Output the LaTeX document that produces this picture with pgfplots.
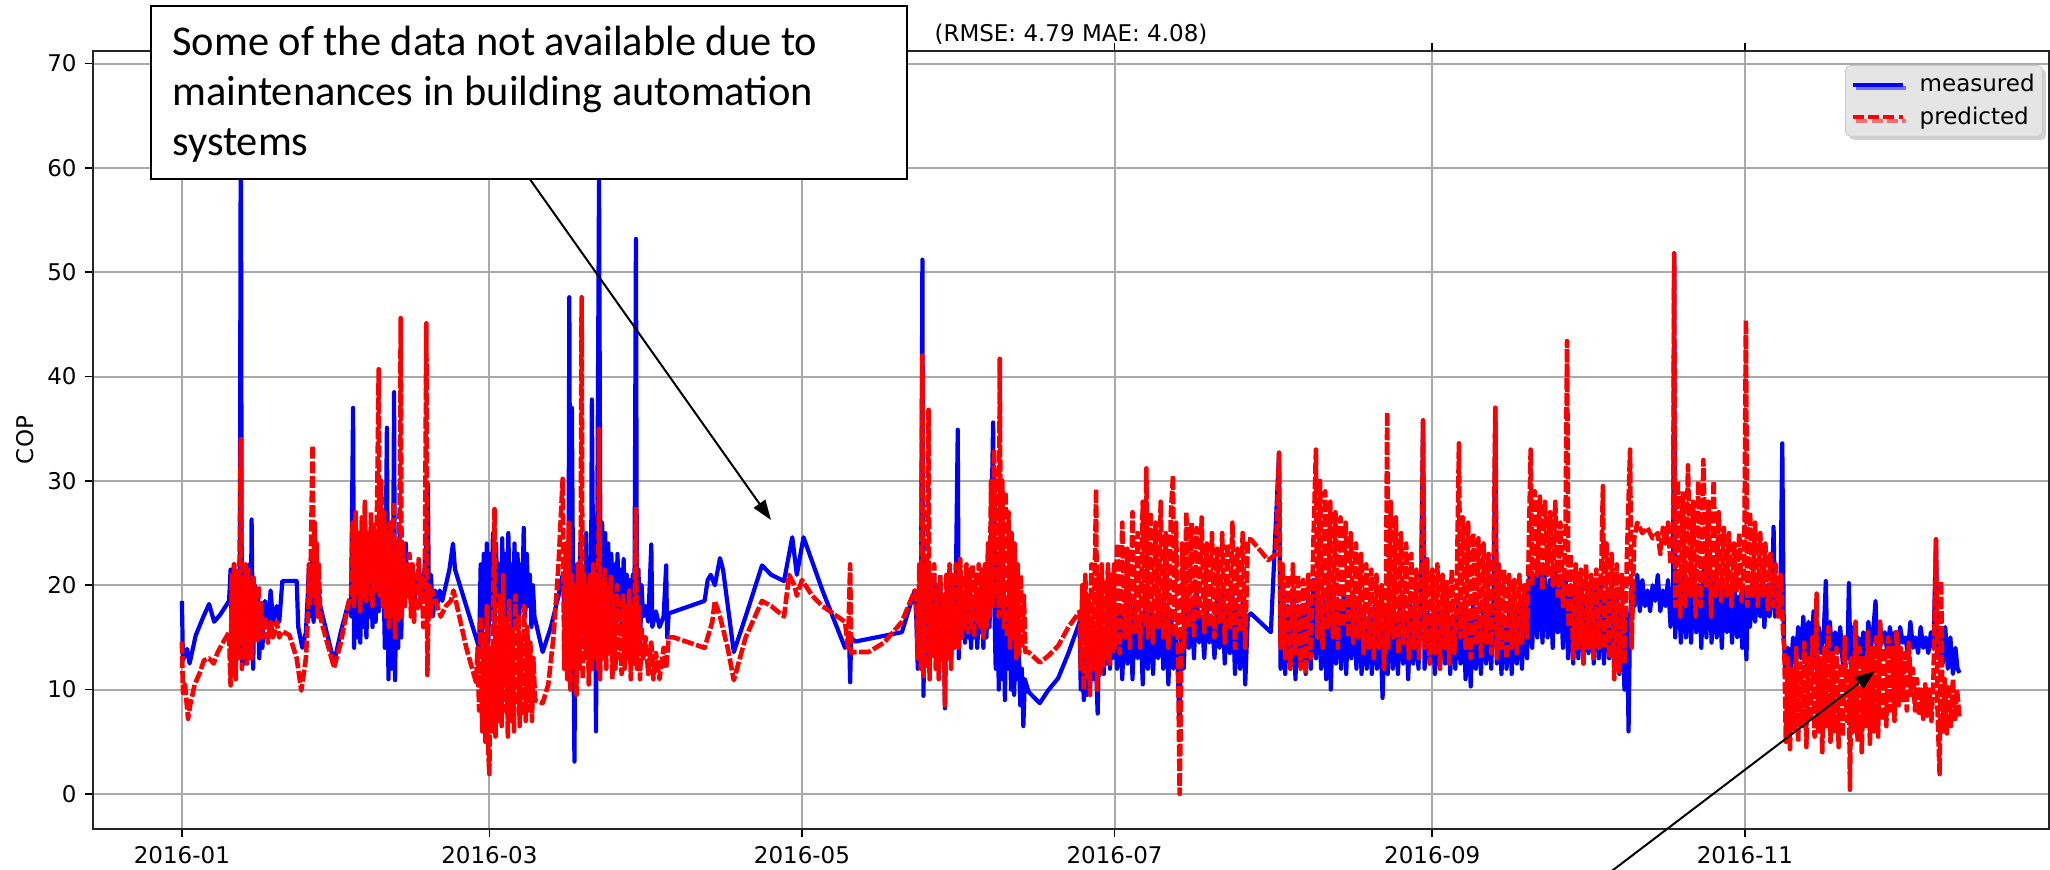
\documentclass[border=0pt]{standalone}
\usepackage{fontspec}
\setmainfont{DejaVu Sans}
\newfontfamily\calibri{Carlito}
\usepackage{pgfplots}
\usepackage{pgfplotstable}
\pgfplotsset{compat=1.18}
\usetikzlibrary{arrows.meta,shadows}
\definecolor{gridgray}{RGB}{170,170,170}
\definecolor{leggray}{RGB}{229,229,229}
\definecolor{legdraw}{RGB}{200,200,200}
\newcommand\tickfont{\fontsize{11.5bp}{13.8bp}\selectfont}

\pgfplotstableread[row sep=\\]{
x y\\
0 18.5\\ 0.2 12.8\\ 1.0 13.9\\ 1.5 12.5\\ 2.7 15.2\\ 4.2 17\\ 5.3 18.2\\ 6.3 16.5\\ 7.5 17.2\\ 9.2 18.5\\
9.5 21.5\\ 9.8 13\\ 10.1 22\\ 10.4 12.5\\ 10.7 20\\ 11.0 14\\ 11.3 21\\ 11.5 67.8\\ 11.7 12\\ 12.0 20\\ 12.3 12.5\\ 12.6 19\\ 12.9 14\\ 13.2 22\\ 13.4 13\\ 13.6 26.3\\ 13.9 12\\ 14.2 20\\ 14.5 15\\ 14.8 19.5\\ 15.1 13\\ 15.4 18\\ 15.7 14\\
16.2 18.5\\ 16.8 16\\ 17.3 19.5\\ 17.8 16.5\\ 18.5 18\\ 19.0 16.5\\ 19.6 20.4\\ 22.4 20.4\\ 22.7 16\\ 23.5 14\\ 24.2 15.5\\ 24.6 19.5\\
24.8 22\\ 25.0 17\\ 25.3 21\\ 25.5 23\\ 25.7 16.5\\ 26.0 21\\ 26.3 17.5\\ 26.6 20\\ 27.0 18\\ 29.7 12.6\\ 31.0 15.5\\ 32.6 18.5\\
33.0 17\\ 33.4 37\\ 33.6 14\\ 33.9 20\\ 34.2 15\\ 34.5 21\\ 34.8 14.5\\ 35.1 20\\ 35.4 16\\ 35.7 21.5\\ 36.0 15\\ 36.3 20\\ 36.6 17\\ 36.9 21\\ 37.2 16\\ 37.5 22\\ 37.8 16.5\\ 38.1 21\\ 38.4 17.5\\ 38.7 24\\ 39.0 18\\ 39.3 22\\ 39.6 14\\ 40.0 35.1\\ 40.3 11\\ 40.6 19\\ 40.9 12\\ 41.2 20\\ 41.4 38.5\\ 41.6 10.9\\ 41.9 22\\ 42.2 14\\ 42.5 25\\ 42.8 15\\ 43.1 23\\ 43.4 18\\ 43.7 24\\ 44.0 19\\
44.3 21\\ 44.6 19\\ 45.0 20.5\\ 45.4 18.5\\ 45.8 20.5\\ 46.2 19.5\\ 46.6 21\\ 47.0 19\\ 47.4 22\\ 47.7 24\\ 48.0 29.7\\ 48.2 18\\ 48.6 21\\ 49.0 17\\ 49.4 19.5\\ 49.8 18\\ 50.3 19.5\\ 50.8 18.5\\ 51.5 20\\ 52.2 21.5\\ 52.9 24\\ 53.3 21.5\\ 58.0 14\\
58.3 22\\ 58.6 15\\ 58.9 23\\ 59.2 16\\ 59.5 24\\ 59.8 14.5\\ 60.1 23\\ 60.4 17\\ 60.7 25\\ 61.0 16\\ 61.3 24\\ 61.6 18\\ 61.9 22\\ 62.2 15\\ 62.5 24.5\\ 62.8 17\\ 63.1 23\\ 63.4 16\\ 63.7 25\\ 64.0 18\\ 64.3 22\\ 64.6 15.5\\ 64.9 24\\ 65.2 17\\ 65.5 23\\ 65.8 16\\ 66.1 22\\ 66.4 18\\ 66.7 25.5\\ 67.0 17\\ 67.3 23\\ 67.6 18\\ 67.9 21\\ 68.2 16\\ 68.5 20\\ 68.8 17\\
70.4 13.6\\ 72.0 16\\ 73.5 19\\ 74.3 21\\
74.5 20\\ 74.8 15\\ 75.1 24\\ 75.4 12\\ 75.6 47.6\\ 75.8 16\\ 76.1 37\\ 76.4 14\\ 76.6 3.1\\ 76.8 18\\ 77.1 22\\ 77.4 13\\ 77.7 24\\ 78.0 16\\ 78.3 21\\ 78.6 14\\ 78.9 25\\ 79.2 17\\ 79.5 22\\ 79.8 15\\ 80.0 37.8\\ 80.3 18\\ 80.6 22\\ 80.8 6\\ 81.0 20\\ 81.4 59\\ 81.7 17\\ 82.0 26\\ 82.3 18\\ 82.6 25\\ 82.9 17\\ 83.2 24\\ 83.5 16\\ 83.8 23\\ 84.1 17.5\\ 84.4 22\\ 84.7 16\\ 85.0 23\\ 85.3 18\\ 85.6 21.5\\ 85.9 16\\ 86.2 22.5\\ 86.5 17\\ 86.8 21\\ 87.1 16.5\\ 87.4 20.5\\ 87.7 15\\ 88.0 21\\ 88.3 17\\ 88.6 53.2\\ 88.8 15\\ 89.1 21.5\\ 89.4 14\\ 89.7 20\\ 90.0 17\\
90.5 18\\ 91.0 16.5\\ 91.6 23.9\\ 91.8 16\\ 92.5 17.5\\ 93.2 16\\ 94.0 17\\ 94.5 21.9\\ 94.7 15\\ 95.0 17.3\\
102 18.5\\ 102.6 20.5\\ 103.2 21\\ 104 20\\ 105 22.6\\ 105.6 21.5\\ 107.7 13.6\\ 110 17\\ 113.2 21.9\\ 115 21\\ 117.5 20.4\\ 119.1 24.6\\ 120 21\\ 121.3 24.6\\ 125 19.5\\ 129.4 14\\ 130.2 15\\ 130.4 10.7\\ 130.6 15\\ 131.4 14.6\\ 140.5 15.5\\ 143 19.5\\
143.3 17\\ 143.6 12\\ 143.9 20\\ 144.2 14\\ 144.5 51.2\\ 144.7 9.4\\ 145.0 18\\ 145.3 13\\ 145.6 20\\ 145.9 12\\ 146.2 19\\ 146.5 14\\ 146.8 21\\ 147.1 13\\ 147.4 18.5\\ 147.7 12.5\\ 148.0 20\\ 148.3 13.5\\ 148.6 18\\ 148.9 8.2\\ 149.2 19\\ 149.5 14\\ 149.8 20\\ 150.1 13\\ 150.4 18.5\\ 150.7 14.5\\ 151.0 19\\ 151.4 34.9\\ 151.6 13\\ 151.9 17.5\\ 152.2 15\\ 152.5 19\\ 152.8 14.5\\ 153.1 17\\ 153.4 15\\ 153.7 18\\ 154.0 14\\ 154.3 17.5\\ 154.6 15\\ 154.9 18.5\\ 155.2 14\\ 155.5 17\\ 155.8 15.5\\ 156.1 18\\ 156.4 14\\ 156.7 19\\ 157.0 15\\ 157.3 20\\ 157.6 16\\ 157.9 24\\ 158.3 35.6\\ 158.5 19\\ 158.8 12\\ 159.1 22\\ 159.4 10\\ 159.7 21\\ 160.0 11\\ 160.3 20\\ 160.6 9\\ 160.9 18\\ 161.2 12\\ 161.5 17\\ 161.8 10\\ 162.1 16\\ 162.4 9.5\\ 162.7 15\\ 163.0 11\\ 163.3 14\\ 163.6 8.5\\ 163.9 12\\ 164.2 6.5\\ 164.5 11\\
165.2 9.8\\ 167.4 8.7\\ 169 9.9\\ 171 11.1\\ 173 13.5\\ 175.2 16.5\\
175.4 10\\ 175.7 13\\ 176.0 9\\ 176.3 14\\ 176.6 9.5\\ 176.9 13.5\\ 177.2 10\\ 177.5 14.5\\ 177.8 11\\ 178.1 15\\ 178.4 12\\ 178.7 7.7\\ 179.0 15\\ 179.3 12\\ 179.6 16\\ 179.9 11.5\\ 180.2 15.5\\ 180.5 12.5\\ 180.8 17\\ 181.1 12\\ 181.4 15\\ 181.7 13\\
182.0 17\\ 182.5 12\\ 183.0 18\\ 183.5 11\\ 184.0 17.5\\ 184.5 12.5\\ 185.0 19\\ 185.5 11\\ 186.0 18\\ 186.5 13\\ 187.0 17\\ 187.5 10.5\\ 188.0 19.5\\ 188.5 12\\ 189.0 18\\ 189.5 11.5\\ 190.0 17\\ 190.5 13\\ 191.0 19\\ 191.5 12\\ 192.0 18\\ 192.5 10.5\\ 193.0 17.5\\ 193.5 12\\ 194.0 16\\ 194.7 6.7\\ 195.0 15\\ 195.5 12\\ 196.0 19.5\\ 196.5 14\\ 197.0 18.5\\ 197.5 13\\ 198.0 20\\ 198.5 14.5\\ 199.0 17\\ 199.5 13\\ 200.0 18\\ 200.5 14.5\\ 201.0 17\\ 201.5 13\\ 202.0 18.5\\ 202.5 14\\ 203.0 19\\ 203.5 12.5\\ 204.0 18\\ 204.5 13.5\\ 205.0 19\\ 205.5 11.5\\ 206.0 17.5\\ 206.5 12\\ 207.0 18.5\\ 207.5 10.5\\ 208.0 17\\ 208.6 17.3\\
212.5 15.5\\ 214.1 32.7\\
214.4 12\\ 214.8 19\\ 215.3 11.5\\ 215.8 18\\ 216.3 12\\ 216.8 19.5\\ 217.3 11\\ 217.8 18\\ 218.3 12.5\\ 218.8 17.5\\ 219.3 11.5\\ 219.8 19\\ 220.3 12\\ 220.8 20.5\\ 221.3 13\\ 221.8 19\\ 222.3 12\\ 222.8 18.5\\ 223.3 11\\ 223.8 20\\ 224.2 10\\ 224.7 19\\ 225.2 12.5\\ 225.7 18\\ 226.2 12\\ 226.7 19.5\\ 227.2 11.5\\ 227.7 18\\ 228.2 13\\ 228.7 19\\ 229.2 12\\ 229.7 18.5\\ 230.2 11.5\\ 230.7 17.5\\ 231.2 12\\ 231.7 17\\ 232.2 11.5\\ 232.7 18\\
233.2 12\\ 233.7 18\\ 234.3 9.2\\ 234.8 17.5\\ 235.3 11.5\\ 235.8 18\\ 236.3 12\\ 236.8 17\\ 237.3 11.5\\ 237.8 18.5\\ 238.3 12.5\\ 238.8 17\\ 239.3 11\\ 239.8 18\\ 240.3 12.5\\ 240.8 17.5\\ 241.3 12\\ 241.8 19\\ 242.2 35.8\\ 242.5 12\\ 243.0 18\\ 243.5 12.5\\ 244.0 17\\ 244.5 11.5\\ 245.0 18\\ 245.5 12\\ 246.0 17.5\\ 246.5 12.5\\ 247.0 18\\ 247.5 11.5\\ 248.0 17\\ 248.5 12\\ 249.0 19\\ 249.5 12.5\\ 250.0 18\\ 250.5 11\\ 251.0 17.5\\ 251.5 10.3\\ 252.0 18\\ 252.5 12\\ 253.0 17\\ 253.5 11.5\\ 254.0 18.5\\ 254.5 12.5\\ 255.0 17.5\\ 255.5 12\\ 256.0 19\\ 256.3 37\\ 256.6 12.5\\ 257.0 18\\ 257.5 11.5\\ 258.0 17\\ 258.5 12\\ 259.0 18\\ 259.5 11.5\\ 260.0 17.5\\ 260.5 12.5\\ 261.0 18\\ 261.5 12\\ 262.0 19\\ 262.5 13\\ 263.0 21.5\\ 263.5 14\\ 264.0 21\\ 264.5 15\\ 265.0 22\\ 265.5 14.5\\ 266.0 21\\ 266.5 15\\ 267.0 20.5\\ 267.5 14\\ 268.0 21.5\\ 268.5 15.5\\ 269.0 20\\ 269.5 14\\ 270.0 21\\ 270.5 13\\ 271.0 20\\ 271.5 12.5\\ 272.0 19\\ 272.5 13\\ 273.0 20.5\\ 273.5 12.5\\ 274.0 19\\ 274.5 13.5\\ 275.0 20\\ 275.5 12.5\\ 276.0 19.5\\ 276.5 13\\ 277.0 20\\ 277.5 12.5\\ 278.0 19\\ 278.5 13\\ 279.0 20.5\\ 279.5 12.5\\ 280.0 19\\ 280.5 11.5\\ 281.0 18\\ 281.5 10\\ 282.0 17\\ 282.3 6\\ 282.6 17\\ 283.0 20\\ 283.5 18\\ 284.0 21\\ 284.5 17.5\\ 285.0 20.5\\ 285.5 18\\ 286.0 19.5\\ 286.5 17.5\\ 287.0 20\\ 287.5 18.5\\ 288.0 21\\ 288.5 17.5\\ 289.0 19.5\\ 289.5 18\\ 290.0 20.5\\ 290.5 16\\ 291.0 20\\ 291.2 51.8\\ 291.4 15\\ 292.0 20.5\\ 292.5 14.5\\ 293.0 21.5\\ 293.5 15\\ 294.0 20\\ 294.5 14.5\\ 295.0 21\\ 295.5 15.5\\ 296.0 20\\
296.5 14\\ 297.0 22\\ 297.5 15\\ 298.0 23\\ 298.5 14.5\\ 299.0 21\\ 299.5 15\\ 300.0 20\\ 300.5 14\\ 301.0 20.5\\ 301.5 15.5\\ 302.0 19.5\\ 302.5 14.5\\ 303.0 20\\ 303.5 15\\ 304.0 19\\ 304.5 14\\ 305.0 19.5\\ 305.3 12.9\\ 305.6 19\\ 306.0 16\\ 306.5 20.5\\ 307.0 16.5\\ 307.5 20\\ 308.0 17\\ 308.5 21\\ 308.8 16\\ 309.3 20\\ 309.8 17\\ 310.3 19\\ 310.6 25.6\\ 310.9 17\\ 311.4 20\\ 311.9 17.5\\ 312.3 33.6\\ 312.6 15\\
312.9 12\\ 313.4 14\\ 313.9 11.5\\ 314.4 15\\ 314.9 12.5\\ 315.4 16\\ 315.9 13\\ 316.4 17\\ 316.9 12.5\\ 317.4 16.5\\ 317.9 13\\ 318.4 17.5\\ 318.9 12\\ 319.4 16\\ 319.9 13.5\\ 320.4 15.5\\ 320.8 20.4\\ 321.1 13\\ 321.6 16.5\\ 322.1 12.5\\ 322.6 15.5\\ 323.1 13.5\\ 323.6 16\\ 324.1 12.5\\ 324.6 15\\ 325.0 13\\ 325.3 20.2\\ 325.6 12.5\\ 326.1 16\\ 326.6 13\\ 327.1 15\\ 327.6 12.5\\ 328.1 15.5\\ 328.6 13\\ 329.1 16.5\\ 329.6 14\\ 330.1 16\\ 330.5 18.5\\ 330.8 14\\ 331.3 16.5\\ 331.8 14.5\\ 332.3 15.5\\ 332.8 13.5\\ 333.3 16\\ 333.8 14\\ 334.3 15.5\\ 334.8 13.5\\ 335.3 16\\ 335.8 14.5\\ 336.3 15\\ 336.8 13.5\\ 337.3 16.5\\ 337.8 14\\ 338.3 15\\ 338.8 13.5\\ 339.3 16\\ 339.8 14\\ 340.3 15\\ 340.8 13.5\\ 341.3 15.5\\ 341.8 14\\ 342.3 24.4\\ 342.6 13\\ 343.1 15.5\\ 343.6 12.5\\ 344.1 16\\ 344.6 12\\ 345.1 15\\ 345.6 11.5\\ 346.1 14\\ 346.5 12\\ 346.9 11.6\\
}\measured

\pgfplotstableread[row sep=\\]{
x y\\
0 14.6\\ 0.2 9.7\\ 0.6 10.5\\ 1.2 7.2\\ 1.6 8.5\\ 2.5 10.5\\ 3.4 11.5\\ 4.3 12.8\\ 5.3 13\\ 6.2 12.5\\ 7.0 13.6\\ 8.0 14.5\\ 9.2 15.5\\
9.5 10.4\\ 9.75 21\\ 10.0 12\\ 10.25 22\\ 10.5 11\\ 10.75 20.5\\ 11.0 13\\ 11.25 22.4\\ 11.5 34\\ 11.7 12\\ 11.95 21\\ 12.2 13.5\\ 12.45 22\\ 12.7 12.5\\ 12.95 21.5\\ 13.2 14\\ 13.45 20\\ 13.7 13\\ 13.95 21\\ 14.2 15\\ 14.45 19.5\\ 14.7 14.5\\ 14.95 20\\ 15.2 15\\ 15.45 18.5\\ 15.7 15\\
16.2 17\\ 16.8 14.5\\ 17.3 16.5\\ 17.8 15\\ 18.5 16.5\\ 19.0 15\\ 19.6 15.6\\ 21.0 15.2\\ 22.4 13\\ 23.3 9.9\\ 24.2 13\\ 24.6 17\\
24.8 22\\ 25.0 18\\ 25.3 27\\ 25.5 33.4\\ 25.7 19\\ 25.9 26\\ 26.1 18\\ 26.3 24\\ 26.5 17\\ 26.7 22\\ 27.0 17\\ 27.5 16\\ 29.7 12.1\\ 31.0 14.5\\ 32.6 18.5\\
33.0 19\\ 33.3 26\\ 33.6 18\\ 33.9 27\\ 34.2 19\\ 34.5 25\\ 34.8 17.5\\ 35.1 26.5\\ 35.4 19\\ 35.7 28\\ 36.0 18.5\\ 36.3 25\\ 36.6 20\\ 36.9 27\\ 37.2 18\\ 37.5 26\\ 37.8 19.5\\ 38.1 28\\ 38.4 40.7\\ 38.6 19\\ 38.9 30\\ 39.2 18\\ 39.5 27\\ 39.8 17\\ 40.1 25\\ 40.4 16\\ 40.7 26\\ 41.0 17\\ 41.3 28\\ 41.6 15\\ 41.9 24\\ 42.2 16.5\\ 42.5 28\\ 42.7 45.6\\ 42.9 17\\ 43.2 24\\ 43.5 18\\ 43.8 22\\ 44.1 19\\
44.4 23\\ 44.7 17\\ 45.0 22\\ 45.3 16.5\\ 45.6 21\\ 45.9 17.5\\ 46.2 22.5\\ 46.5 18\\ 46.8 21\\ 47.1 16\\ 47.4 20\\ 47.7 45.1\\ 47.9 11.4\\ 48.2 20\\ 48.5 17\\ 48.8 19.5\\
49.5 18.5\\ 50.5 17\\ 51.5 18\\ 52.5 18.5\\ 53.0 19.5\\ 55.5 14\\ 57.4 10.7\\
57.7 14\\ 58.0 8\\ 58.3 17\\ 58.6 6\\ 58.9 15\\ 59.2 5\\ 59.5 18\\ 59.8 4\\ 60.0 1.9\\ 60.2 14\\ 60.5 6\\ 60.8 20\\ 61.0 27.3\\ 61.2 5.5\\ 61.5 16\\ 61.8 7\\ 62.1 19\\ 62.4 6.5\\ 62.7 21\\ 63.0 8\\ 63.3 17\\ 63.6 5.5\\ 63.9 18.5\\ 64.2 7\\ 64.5 16\\ 64.8 6\\ 65.1 19\\ 65.4 8.5\\ 65.7 17\\ 65.9 6.5\\ 66.2 15\\ 66.5 7.5\\ 66.8 18\\ 67.1 7\\ 67.4 16\\ 67.7 8\\ 68.0 14.5\\ 68.3 7\\ 68.6 13\\ 68.9 9\\
70.4 8.7\\ 71.5 10.5\\ 72.5 15\\ 73.5 22\\ 74.3 30.2\\
74.6 12\\ 74.9 24\\ 75.2 11\\ 75.5 26\\ 75.8 10\\ 76.1 21\\ 76.4 12\\ 76.7 20\\ 77.0 9.5\\ 77.3 22\\ 77.6 12\\ 77.8 20\\ 78.0 47.6\\ 78.2 11\\ 78.5 21\\ 78.8 13\\ 79.1 20\\ 79.4 10.5\\ 79.7 21\\ 80.0 12\\ 80.3 22\\ 80.6 13\\ 80.9 21\\ 81.2 12\\ 81.4 35\\ 81.6 11\\ 81.9 20\\ 82.2 13\\ 82.5 21.5\\ 82.8 12\\ 83.1 20\\ 83.4 13.5\\ 83.7 21\\ 84.0 11\\ 84.3 19\\ 84.6 12\\ 84.9 20\\ 85.2 13\\ 85.5 18.5\\ 85.8 11.5\\ 86.1 19\\ 86.4 12\\ 86.7 18\\ 87.0 13\\ 87.3 19.5\\ 87.6 11\\ 87.9 18\\ 88.2 12.5\\ 88.6 27.5\\ 88.8 12\\ 89.1 18\\ 89.4 11\\ 89.7 16\\ 90.0 13\\
90.5 15\\ 91.0 11.5\\ 91.6 14.5\\ 92.0 11\\ 92.5 13.5\\ 93.2 11\\ 94.0 14\\ 94.5 12\\ 95.0 15\\
96 15\\ 102 14\\ 103.5 16.5\\ 104 18.5\\ 105 17\\ 106.5 14\\ 107.7 10.9\\ 110 15\\ 113.2 18.5\\ 115 18\\ 117.5 17\\ 118.5 21\\ 119.5 20\\ 120 19\\ 121 20.5\\ 123 19\\ 125 18\\ 129.4 16.5\\ 130.0 14\\ 130.4 22\\ 130.6 13.5\\ 131.4 13.6\\ 134 13.6\\ 137 14.5\\ 140.5 16.5\\ 143 19.5\\
143.3 19\\ 143.6 13\\ 143.9 22\\ 144.2 12\\ 144.5 42\\ 144.7 11\\ 145.0 22\\ 145.3 12\\ 145.7 36.8\\ 145.9 11\\ 146.2 21\\ 146.5 13\\ 146.8 22\\ 147.1 12\\ 147.4 20\\ 147.7 11\\ 148.0 21\\ 148.3 12.5\\ 148.6 19\\ 148.9 8.5\\ 149.2 21\\ 149.5 13\\ 149.8 22\\ 150.1 12\\ 150.4 21\\ 150.7 14\\ 151.0 22\\ 151.4 20\\ 151.6 14\\ 151.9 22.5\\ 152.2 15\\ 152.5 21\\ 152.8 16\\ 153.1 22\\ 153.4 15.5\\ 153.7 21.5\\ 154.0 16\\ 154.3 22\\ 154.6 15\\ 154.9 21\\ 155.2 16.5\\ 155.5 22\\ 155.8 16\\ 156.1 21.5\\ 156.4 15\\ 156.7 22\\ 157.0 16\\ 157.3 24\\ 157.6 17\\ 157.9 30\\ 158.2 18\\ 158.5 33\\ 158.8 19\\ 159.1 31\\ 159.4 17\\ 159.6 41.7\\ 159.8 18\\ 160.1 30\\ 160.4 16\\ 160.7 29\\ 161.0 15\\ 161.3 27\\ 161.6 14\\ 161.9 25\\ 162.2 15\\ 162.5 24\\ 162.8 13\\ 163.1 22\\ 163.4 13.5\\ 163.7 21\\ 164.0 14\\ 164.3 19\\ 164.6 13.6\\
165.2 13.6\\ 167.4 12.6\\ 169 13.2\\ 171 14.2\\ 173 16\\ 175.2 17.5\\
175.4 12\\ 175.7 20\\ 176.0 10\\ 176.3 21\\ 176.6 11\\ 176.9 19\\ 177.2 9.5\\ 177.5 22\\ 177.8 12\\ 178.1 20\\ 178.4 29.2\\ 178.6 10\\ 178.9 21\\ 179.2 11.5\\ 179.5 22\\ 179.8 12\\ 180.1 20.5\\ 180.4 13\\ 180.7 22\\ 181.0 12.5\\ 181.3 21\\ 181.6 13.5\\ 181.9 22\\
182.0 14\\ 182.5 24\\ 183.0 13.5\\ 183.5 26\\ 184.0 15\\ 184.5 23.5\\ 185.0 14\\ 185.5 27\\ 186.0 15.5\\ 186.5 25\\ 187.0 14\\ 187.5 28\\ 188.0 16\\ 188.2 31.2\\ 188.5 15\\ 189.0 27\\ 189.5 14.5\\ 190.0 26\\ 190.5 16\\ 191.0 28\\ 191.5 15\\ 192.0 25\\ 192.5 14\\ 193.0 27\\ 193.4 30.5\\ 193.7 15\\ 194.0 26\\ 194.4 13\\ 194.7 0\\ 194.9 6.5\\ 195.2 24\\ 195.6 14\\ 196.0 27\\ 196.5 16\\ 197.0 26\\ 197.5 15\\ 198.0 25.5\\ 198.5 17\\ 199.0 26.5\\ 199.5 15.5\\ 200.0 24\\ 200.5 16\\ 201.0 25\\ 201.5 15\\ 202.0 23.5\\ 202.5 16.5\\ 203.0 25\\ 203.5 14.5\\ 204.0 24\\ 204.5 16\\ 205.0 26\\ 205.5 14\\ 206.0 23.5\\ 206.5 15.5\\ 207.0 25\\ 207.5 14\\ 208.0 24.4\\ 208.6 24.4\\
212 22.4\\ 213.5 23\\ 214.1 32.7\\
214.4 14\\ 214.8 22\\ 215.3 13\\ 215.8 21\\ 216.3 12\\ 216.8 22\\ 217.3 13.5\\ 217.8 21\\ 218.3 12\\ 218.8 20.5\\ 219.3 11.5\\ 219.8 21\\ 220.3 13\\ 220.8 24\\ 221.3 33\\ 221.6 15\\ 222.1 30\\ 222.6 14\\ 223.1 29\\ 223.6 16\\ 224.1 28\\ 224.6 15\\ 225.1 27\\ 225.6 14\\ 226.1 26.5\\ 226.6 16\\ 227.1 26\\ 227.6 15\\ 228.1 25\\ 228.6 14.5\\ 229.1 24\\ 229.6 15\\ 230.1 23\\ 230.6 13.5\\ 231.1 22\\ 231.6 14\\ 232.1 21.5\\ 232.6 13\\ 233.1 21\\
233.6 14\\ 234.1 20\\ 234.6 12\\ 235.0 21\\ 235.2 36.6\\ 235.4 14\\ 235.9 28\\ 236.4 15\\ 236.9 26.5\\ 237.4 13.5\\ 237.9 25\\ 238.4 14.5\\ 238.9 24\\ 239.4 13\\ 239.9 23\\ 240.4 14\\ 240.9 21.5\\ 241.4 13\\ 241.9 22\\ 242.2 35.8\\ 242.5 14\\ 243.0 22.5\\ 243.5 12.5\\ 244.0 21.5\\ 244.5 13.5\\ 245.0 22\\ 245.5 12\\ 246.0 21\\ 246.5 14\\ 246.8 20.5\\ 247.3 12.5\\ 247.8 21.5\\ 248.3 13.5\\ 248.8 20\\ 249.2 33.6\\ 249.5 15\\ 250.0 26.5\\ 250.5 14\\ 251.0 26\\ 251.5 13\\ 252.0 25\\ 252.5 14.5\\ 253.0 24.5\\ 253.5 13\\ 254.0 24\\ 254.5 14.5\\ 255.0 23\\ 255.5 13.5\\ 256.0 23\\ 256.3 37\\ 256.6 13\\ 257.0 22\\ 257.5 14\\ 258.0 21.5\\ 258.5 13\\ 259.0 21\\ 259.5 14\\ 260.0 20.5\\ 260.5 13.5\\ 261.0 21\\ 261.5 14.5\\ 262.0 20\\ 262.5 15\\ 263.2 33\\ 263.5 20\\ 264.0 29\\ 264.5 21\\ 265.0 28.5\\ 265.5 19.5\\ 266.0 28\\ 266.5 21\\ 267.0 27\\ 267.5 20\\ 268.0 28\\ 268.5 19\\ 269.0 26\\ 269.5 18\\ 270.0 25\\ 270.3 43.4\\ 270.6 16\\ 271.0 23\\ 271.5 13\\ 272.0 22\\ 272.5 14\\ 273.0 21.5\\ 273.5 12.5\\ 274.0 22\\ 274.5 14\\ 275.0 21\\ 275.5 13\\ 276.0 21.5\\ 276.5 14\\ 277.0 22\\ 277.3 29.5\\ 277.6 14\\ 278.0 24\\ 278.5 13\\ 279.0 23\\ 279.5 11\\ 280.0 22\\ 280.5 11.5\\ 281.0 21\\ 281.5 12.5\\ 282.0 23\\ 282.6 33\\ 282.9 14\\ 283.4 24.5\\ 284.0 26\\ 285.0 25\\ 286.0 25.5\\ 287.0 24.5\\ 288.0 25\\ 288.5 23\\ 289.0 25.5\\ 289.5 24\\ 290.0 26\\ 290.5 22\\ 291.0 24\\ 291.2 51.8\\ 291.4 18\\ 291.9 30\\ 292.4 17\\ 292.9 29\\ 293.4 18\\ 293.9 31.5\\ 294.4 19\\ 294.9 28\\ 295.4 17\\ 295.9 30\\
296.4 18\\ 296.9 32\\ 297.4 20\\ 297.9 28\\ 298.4 17\\ 298.9 30\\ 299.4 19\\ 299.9 27\\ 300.4 18.5\\ 300.9 25.5\\ 301.4 19\\ 301.9 25\\ 302.4 18\\ 302.9 24\\ 303.4 19.5\\ 303.9 25\\ 304.4 18.5\\ 304.9 23\\ 305.2 45.4\\ 305.5 18\\ 306.0 27\\ 306.5 19\\ 307.0 26\\ 307.5 18\\ 308.0 25\\ 308.5 19\\ 309.0 24\\ 309.5 17.5\\ 310.0 23\\ 310.5 18\\ 311.0 22\\ 311.5 17\\ 312.0 21\\ 312.5 15\\
312.7 14\\ 313.0 5\\ 313.4 13\\ 313.8 4.3\\ 314.2 12\\ 314.6 6\\ 315.0 14\\ 315.4 5\\ 315.8 12.5\\ 316.2 6.5\\ 316.6 14.5\\ 317.0 4.5\\ 317.4 13\\ 317.8 7\\ 318.2 15\\ 318.6 5.5\\ 319.0 19.2\\ 319.3 6\\ 319.7 13\\ 320.1 4\\ 320.5 14\\ 320.9 6.5\\ 321.3 16\\ 321.7 5\\ 322.1 13.5\\ 322.5 6\\ 322.9 14\\ 323.3 4.5\\ 323.7 12.5\\ 324.1 5.5\\ 324.5 15\\ 324.9 7\\ 325.3 12\\ 325.5 0.4\\ 325.8 13\\ 326.2 6\\ 326.6 16.5\\ 327.0 5\\ 327.4 14\\ 327.8 4\\ 328.2 13\\ 328.6 6.5\\ 329.0 15.5\\ 329.4 4.8\\ 329.8 14\\ 330.2 6\\ 330.6 15\\ 331.0 5.5\\ 331.4 16.5\\ 331.8 7\\ 332.2 14\\ 332.6 6.5\\ 333.0 15\\ 333.4 8\\ 333.8 14\\ 334.2 7\\ 334.6 15.5\\ 335.0 8.5\\ 335.4 14\\ 335.8 9\\ 336.2 13.5\\ 336.6 8\\ 337.0 14.5\\ 337.4 9.5\\ 337.8 12\\ 338.2 8\\ 338.6 11\\ 339.0 7.5\\ 339.4 10\\ 339.8 7.2\\ 340.2 10.5\\ 340.6 7.5\\ 341.0 10\\ 341.4 7\\ 341.8 11\\ 342.3 24.4\\ 342.6 8\\ 343.0 1.9\\ 343.3 20.4\\ 343.6 6\\ 344.0 11\\ 344.4 5.8\\ 344.8 10.5\\ 345.2 6.5\\ 345.6 11\\ 346.0 7\\ 346.4 10\\ 346.9 7.2\\
}\predicted

\begin{document}
\begin{tikzpicture}
\useasboundingbox (0bp,0bp) rectangle (1025bp,-435bp);
\begin{axis}[
  at={(46.5bp,-414.65bp)}, anchor=south west,
  scale only axis, width=978bp, height=389.15bp,
  xmin=-17.35, xmax=364.35, ymin=-3.39, ymax=71.2,
  xtick={0,60,121,182,244,305},
  xticklabels={2016-01,2016-03,2016-05,2016-07,2016-09,2016-11},
  ytick={0,10,20,30,40,50,60,70},
  tick align=outside, major tick length=4bp,
  tick style={black, line width=0.8bp},
  axis line style={black!85, line width=1bp},
  grid=major, major grid style={gridgray, line width=1bp},
  ticklabel style={font=\tickfont},
  /pgf/number format/assume math mode=true,
  xticklabel style={anchor=north, inner sep=0pt, yshift=-4.3bp},
  yticklabel style={anchor=east, inner sep=0pt, xshift=-4bp},
  legend style={at={(1,1)}, anchor=north east, xshift=-3bp, yshift=-7bp,
    fill=leggray, draw=legdraw, rounded corners=2.5bp, font=\tickfont,
    inner xsep=2.5bp, inner ysep=3bp, row sep=3bp,
    nodes={inner sep=1.5bp},
    drop shadow={shadow xshift=1.8bp, shadow yshift=-1.8bp, fill=black!35},
    /tikz/every odd column/.append style={column sep=6bp}},
  legend image code/.code={\draw[#1] (0bp,0bp) -- (25bp,0bp);},
  legend cell align=left,
]
\addplot[blue, line width=2.1bp, line join=round] table {\measured};
\addplot[red, line width=2.3bp, line join=round, dash pattern=on 6bp off 1.3bp,
  legend image post style={dash pattern=on 5.5bp off 2.2bp, line width=2.1bp}] table {\predicted};
\legend{measured, predicted}
\end{axis}
\begin{scope}[x=0.5bp,y=-0.5bp]
\node[anchor=base, font=\tickfont, inner sep=0pt] at (1071,41) {(RMSE: 4.79 MAE: 4.08)};
\node[rotate=90, font=\tickfont, inner sep=0pt] at (25,440) {COP};
\draw[line width=1bp, -{Triangle[length=10bp,width=7bp]}] (505,144) -- (771,520);
\draw[line width=1bp, -{Triangle[length=10bp,width=7bp]}] (1600,880) -- (1875,671);
\draw[line width=1bp, fill=white] (151,6) rectangle (907,179);
\begin{scope}[every node/.style={anchor=base west, inner sep=0pt, font=\calibri\fontsize{21.2bp}{25bp}\selectfont}]
\node at (172,55) {Some of the data not available due to};
\node at (172,106) {maintenances in building automation};
\node at (172,156) {systems};
\end{scope}
\end{scope}
\end{tikzpicture}
\end{document}
